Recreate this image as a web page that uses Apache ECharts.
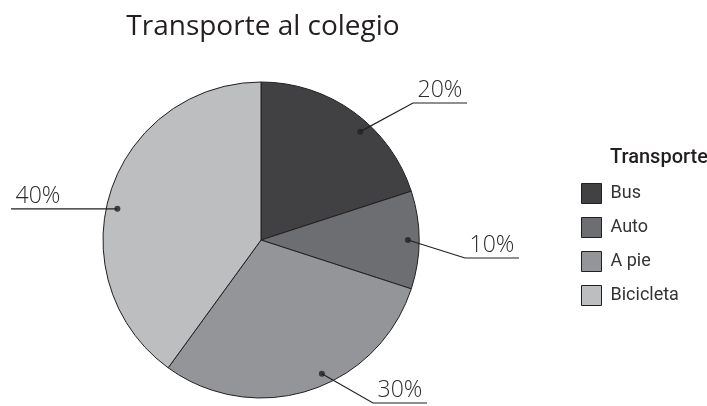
<!DOCTYPE html>
<html>
<head>
<meta charset="utf-8">
<script src="https://cdn.jsdelivr.net/npm/echarts@6/dist/echarts.min.js"></script>
<style>
  html, body { margin: 0; padding: 0; background: #ffffff; }
  #chart { width: 707px; height: 406px; }
</style>
</head>
<body>
<div id="chart"></div>
<script>
// Modes of transport to school (share of students, %)
const categories = ['Bus', 'Auto', 'A pie', 'Bicicleta'];
const shares = [20, 10, 30, 40];
const chartTitle = 'Transporte al colegio';
const legendTitle = 'Transporte';

// Styling and layout
const sliceColors = ['#414042', '#6d6e71', '#939598', '#bcbec0'];
const ink = '#231f20';
const CENTER = [261, 240];
const RADIUS = 158;
const DOT_R = 0.93;                       // leader dot, fraction of radius
const DOT_POS = [0.59, 0.5, 0.44, 0.46];  // leader dot, fraction along each slice
// horizontal underline of each label: [startX, endX, y] (y null = follow dot)
const UNDERLINE = [[413, 467, 103], [465, 519, 258], [373, 427, 403], [65, 11, null]];
const LEGEND_FONT = 'Roboto';

const total = shares.reduce((a, b) => a + b, 0);
const starts = [];
shares.reduce((acc, v) => { starts.push(acc); return acc + v; }, 0);
// dot anchors in the slice's own value units (0..total, clockwise from 12 o'clock)
const dotValues = shares.map((v, i) => starts[i] + v * DOT_POS[i]);

function dotPixel(i) {
  const a = dotValues[i] / total * Math.PI * 2;
  return [CENTER[0] + Math.sin(a) * RADIUS * DOT_R, CENTER[1] - Math.cos(a) * RADIUS * DOT_R];
}
function leaderPoints(i) {
  const d = dotPixel(i);
  const u = UNDERLINE[i];
  const y = u[2] == null ? d[1] : u[2];
  return [d, [u[0], y], [u[1], y]];
}

const chart = echarts.init(document.getElementById('chart'), null, { renderer: 'canvas' });

chart.setOption({
  backgroundColor: '#ffffff',
  animation: false,
  title: [
    {
      text: chartTitle,
      left: 258, top: 8, textAlign: 'center',
      textStyle: { fontFamily: 'Open Sans', fontSize: 28, fontWeight: 'normal', color: ink }
    },
    {
      text: legendTitle,
      left: 605, top: 143,
      textStyle: { fontFamily: LEGEND_FONT, fontSize: 20, fontWeight: 500, color: ink }
    }
  ],
  legend: {
    orient: 'vertical',
    left: 576, top: 178,
    itemWidth: 20, itemHeight: 20, itemGap: 13,
    icon: 'rect',
    data: categories,
    itemStyle: { borderColor: ink, borderWidth: 1 },
    textStyle: {
      fontFamily: LEGEND_FONT,
      fontSize: 18, color: '#333333', padding: [0, 0, 0, 4]
    }
  },
  // leader lines: from the dot inside each slice out to the underline of its label
  graphic: shares.map((v, i) => ({
    type: 'polyline',
    z: 10,
    silent: true,
    shape: { points: leaderPoints(i) },
    style: { stroke: ink, lineWidth: 1.2, fill: null }
  })),
  polar: { center: CENTER, radius: RADIUS },
  angleAxis: { type: 'value', min: 0, max: total, startAngle: 90, clockwise: true, show: false },
  radiusAxis: { type: 'value', min: 0, max: 1, show: false },
  series: [
    {
      type: 'pie',
      center: CENTER,
      radius: RADIUS,
      startAngle: 90,
      clockwise: true,
      data: categories.map((name, i) => ({ name, value: shares[i], itemStyle: { color: sliceColors[i] } })),
      itemStyle: { borderColor: ink, borderWidth: 1 },
      emphasis: { disabled: true },
      label: {
        show: true,
        formatter: '{c}%',
        fontFamily: 'Open Sans',
        fontWeight: 300,
        fontSize: 23,
        color: '#2b2b2b'
      },
      labelLine: { show: false },
      labelLayout: function (params) {
        const pts = leaderPoints(params.dataIndex);
        return {
          x: (pts[1][0] + pts[2][0]) / 2,
          y: pts[2][1] - 1,
          align: 'center',
          verticalAlign: 'bottom'
        };
      }
    },
    {
      // leader dots
      type: 'scatter',
      coordinateSystem: 'polar',
      symbol: 'circle',
      symbolSize: 6,
      itemStyle: { color: ink },
      silent: true,
      z: 11,
      data: dotValues.map(v => [DOT_R, v])
    }
  ]
});
</script>
</body>
</html>
